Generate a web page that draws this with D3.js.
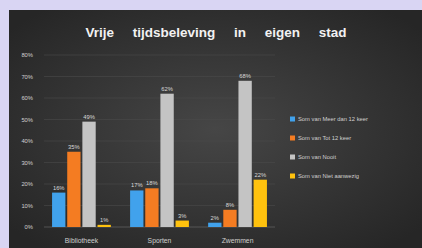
<!DOCTYPE html>
<html>
<head>
<meta charset="utf-8">
<script src="https://cdn.jsdelivr.net/npm/d3@7"></script>
<style>
  html, body { margin: 0; padding: 0; background: #d9d5f3; }
  svg { display: block; }
</style>
</head>
<body>
<script>
// categories and series
const categories = ["Bibliotheek", "Sporten", "Zwemmen"];
const seriesNames = ["Som van Meer dan 12 keer", "Som van Tot 12 keer", "Som van Nooit", "Som van Niet aanwezig"];
const meerDan12 = [16, 17, 2];
const tot12 = [35, 18, 8];
const nooit = [49, 62, 68];
const nietAanwezig = [1, 3, 22];
const yTicks = [0, 10, 20, 30, 40, 50, 60, 70, 80];
const colors = ["#41a2ec", "#f47c22", "#c4c4c4", "#ffc20e"];

const W = 422, H = 248;
const svg = d3.select("body").append("svg").attr("width", W).attr("height", H);

// dark panel with soft radial shading
const defs = svg.append("defs");
const grad = defs.append("radialGradient").attr("id", "bg").attr("cx", "50%").attr("cy", "50%").attr("r", "65%");
grad.append("stop").attr("offset", "0%").attr("stop-color", "#464646");
grad.append("stop").attr("offset", "100%").attr("stop-color", "#262626");

svg.append("rect").attr("x", 9).attr("y", 10).attr("width", W - 9).attr("height", H - 10)
  .attr("fill", "url(#bg)");

svg.append("text")
  .attr("x", 216).attr("y", 37)
  .attr("text-anchor", "middle")
  .attr("fill", "#f2f2f2")
  .attr("font-family", "Liberation Sans, Arial, sans-serif")
  .attr("font-weight", "bold")
  .attr("font-size", 13.5)
  .attr("word-spacing", 15)
  .text("Vrije tijdsbeleving in eigen stad");

const margin = { left: 44, right: 147, top: 55, bottom: 21 };
const x0 = d3.scaleBand().domain(categories).range([margin.left, W - margin.right]).paddingInner(0.2).paddingOuter(0.08);
const x1 = d3.scaleBand().domain(seriesNames).range([0, x0.bandwidth()]).padding(0.12);
const y = d3.scaleLinear().domain([0, 80]).range([H - margin.bottom, margin.top]);

// gridlines
svg.append("g").selectAll("line").data(yTicks).join("line")
  .attr("x1", margin.left).attr("x2", W - margin.right)
  .attr("y1", d => y(d)).attr("y2", d => y(d))
  .attr("stroke", d => d === 0 ? "#6e6e6e" : "#4a4a4a")
  .attr("stroke-width", 0.6);

// y axis
const yAxis = svg.append("g")
  .attr("transform", `translate(${margin.left - 8},0)`)
  .call(d3.axisLeft(y).tickValues(yTicks).tickFormat(d => d + "%").tickSize(0));
yAxis.select(".domain").remove();
yAxis.selectAll("text").attr("fill", "#d0d0d0").attr("font-size", 5.8)
  .attr("font-family", "Liberation Sans, Arial, sans-serif");

// x axis labels
const xAxis = svg.append("g")
  .attr("transform", `translate(0,${H - margin.bottom + 8})`)
  .call(d3.axisBottom(x0).tickSize(0));
xAxis.select(".domain").remove();
xAxis.selectAll("text").attr("fill", "#d0d0d0").attr("font-size", 6.8)
  .attr("font-family", "Liberation Sans, Arial, sans-serif");

const allSeries = [meerDan12, tot12, nooit, nietAanwezig];
const rows = categories.map((c, i) => ({
  cat: c,
  vals: seriesNames.map((s, j) => ({ s, j, v: allSeries[j][i] }))
}));

const groups = svg.append("g").selectAll("g").data(rows).join("g")
  .attr("transform", d => `translate(${x0(d.cat)},0)`);

groups.selectAll("rect").data(d => d.vals).join("rect")
  .attr("x", d => x1(d.s))
  .attr("y", d => y(d.v))
  .attr("width", x1.bandwidth())
  .attr("height", d => y(0) - y(d.v))
  .attr("fill", d => colors[d.j]);

groups.selectAll("text").data(d => d.vals).join("text")
  .attr("x", d => x1(d.s) + x1.bandwidth() / 2)
  .attr("y", d => y(d.v) - 3)
  .attr("text-anchor", "middle")
  .attr("fill", "#d8d8d8")
  .attr("font-size", 5.8)
  .attr("font-family", "Liberation Sans, Arial, sans-serif")
  .text(d => d.v + "%");

// legend
const legend = svg.append("g").attr("transform", "translate(290,119)");
const items = legend.selectAll("g").data(seriesNames).join("g")
  .attr("transform", (d, i) => `translate(0,${i * 19})`);
items.append("rect").attr("x", 0).attr("y", -2.5).attr("width", 5).attr("height", 5)
  .attr("fill", (d, i) => colors[i]);
items.append("text").attr("x", 8).attr("y", 2)
  .attr("fill", "#d0d0d0").attr("font-size", 5.8)
  .attr("font-family", "Liberation Sans, Arial, sans-serif")
  .text(d => d);
</script>
</body>
</html>
